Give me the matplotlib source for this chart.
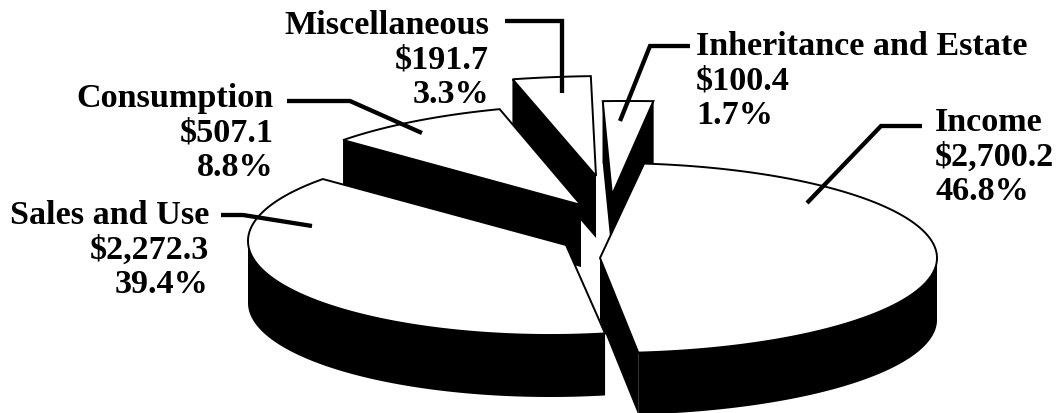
#!/usr/bin/env python3
"""Exploded 3D-look pie of revenue sources, in black and white."""
import numpy as np
import matplotlib
matplotlib.use("Agg")
import matplotlib.pyplot as plt
from matplotlib.patches import Polygon

names = ["Income", "Sales and Use", "Consumption", "Miscellaneous", "Inheritance and Estate"]
amounts = [2700.2, 2272.3, 507.1, 191.7, 100.4]

# per slice: apex, ellipse centre, radii and the angle where the clockwise sweep begins
GEOM = {
    "Income": dict(apex=(600, 258), c=(608, 258), r=(329, 95), start=83.7),
    "Sales and Use": dict(apex=(566, 245), c=(550, 241), r=(302, 94), start=-79.5),
    "Consumption": dict(apex=(581, 205), c=(609, 205), r=(347, 101), start=140.0),
    "Miscellaneous": dict(apex=(596, 176), c=(611, 173), r=(380, 97), start=105.0),
    "Inheritance and Estate": dict(apex=(612, 195), c=(627, 196), r=(464, 95), start=93.0),
}
DEPTH = 62
LINE_STEP = 34.7
DRAW_ORDER = ["Miscellaneous", "Consumption", "Inheritance and Estate", "Sales and Use", "Income"]

# anchor is the baseline of the last line of each label
LABELS = {
    "Income": (935, 200, "left"),
    "Sales and Use": (209, 293, "right"),
    "Consumption": (274, 176, "right"),
    "Miscellaneous": (489, 103, "right"),
    "Inheritance and Estate": (696, 124, "left"),
}
LEADERS = {
    "Income": [(922, 126), (881, 126), (807, 203)],
    "Sales and Use": [(221, 215), (243, 215), (312, 226)],
    "Consumption": [(287, 101), (350, 101), (422, 133)],
    "Miscellaneous": [(505, 21), (562, 21), (562, 93)],
    "Inheritance and Estate": [(690, 46), (650, 46), (620, 121)],
}

plt.rcParams["font.family"] = ["Liberation Serif", "DejaVu Serif"]

total = sum(amounts)
fig = plt.figure(figsize=(10.6, 4.13), dpi=100)
ax = fig.add_axes([0, 0, 1, 1])
ax.set_xlim(0, 1060)
ax.set_ylim(413, 0)
ax.axis("off")


def draw_slice(name):
    g = GEOM[name]
    sweep = 360 * amounts[names.index(name)] / total
    t = np.radians(np.linspace(g["start"], g["start"] - sweep, 240))
    x = g["c"][0] + g["r"][0] * np.cos(t)
    y = g["c"][1] - g["r"][1] * np.sin(t)
    apex_x, apex_y = g["apex"]

    # rim in pieces split at the x extremes, so each piece is a simple polygon
    cuts = sorted({0, int(np.argmax(x)), int(np.argmin(x)), len(x) - 1})
    for a, b in zip(cuts, cuts[1:]):
        px, py = x[a:b + 1], y[a:b + 1]
        rim = np.column_stack([np.r_[px, px[::-1]], np.r_[py, py[::-1] + DEPTH]])
        ax.add_patch(Polygon(rim, fc="black", ec="none", zorder=1))
    # the two cut faces
    for i in (0, -1):
        face = [(x[i], y[i]), (apex_x, apex_y), (apex_x, apex_y + DEPTH), (x[i], y[i] + DEPTH)]
        ax.add_patch(Polygon(face, fc="black", ec="none", zorder=1))

    top = np.column_stack([np.r_[apex_x, x], np.r_[apex_y, y]])
    ax.add_patch(Polygon(top, fc="white", ec="black", lw=1.4, joinstyle="miter", zorder=1))


for name in DRAW_ORDER:
    draw_slice(name)

for name, amount in zip(names, amounts):
    xs, ys = zip(*LEADERS[name])
    ax.plot(xs, ys, color="black", lw=3.1, solid_joinstyle="miter", solid_capstyle="butt", zorder=3)
    tx, ty, ha = LABELS[name]
    lines = [name, f"${amount:,.1f}", f"{100 * amount / total:.1f}%"]
    for k, line in enumerate(lines):
        ax.text(tx, ty - (2 - k) * LINE_STEP, line, ha=ha, va="baseline",
                fontsize=24.6, fontweight="bold", zorder=4)

fig.savefig("out.png", dpi=100)
plt.close(fig)
